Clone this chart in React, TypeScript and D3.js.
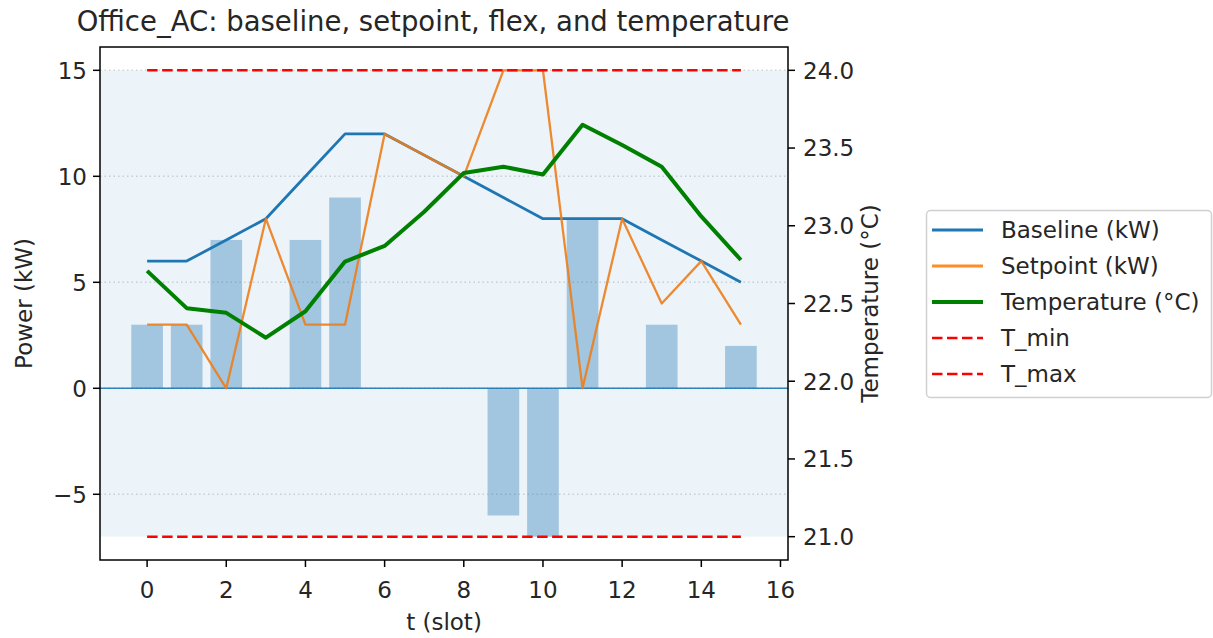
import React from "react";
import * as d3 from "d3";

const slots = [0, 1, 2, 3, 4, 5, 6, 7, 8, 9, 10, 11, 12, 13, 14, 15];
const baseline = [6, 6, 7, 8, 10, 12, 12, 11, 10, 9, 8, 8, 8, 7, 6, 5];
const setpoint = [3, 3, 0, 8, 3, 3, 12, 11, 10, 15, 15, 0, 8, 4, 6, 3];
const flex = [3, 3, 7, 0, 7, 9, 0, 0, 0, -6, -7, 8, 0, 3, 0, 2];
const temperature = [22.71, 22.47, 22.44, 22.28, 22.45, 22.77, 22.87, 23.09, 23.34, 23.38, 23.33, 23.65, 23.52, 23.38, 23.06, 22.78];
const T_MIN = 21.0;
const T_MAX = 24.0;
const xTicks = [0, 2, 4, 6, 8, 10, 12, 14, 16];
const yTicks = [-5, 0, 5, 10, 15];
const tTicks = [21.0, 21.5, 22.0, 22.5, 23.0, 23.5, 24.0];
const legendItems = [
  { label: "Baseline (kW)", color: "#1f77b4", width: 3, dash: "" },
  { label: "Setpoint (kW)", color: "#ff7f0e", width: 3, dash: "" },
  { label: "Temperature (°C)", color: "#008000", width: 4, dash: "" },
  { label: "T_min", color: "#ff0000", width: 2.5, dash: "10.5,4.5" },
  { label: "T_max", color: "#ff0000", width: 2.5, dash: "10.5,4.5" },
];

const W = 1213, H = 638;
const L = 100, R = 788, T = 47, B = 560;
const FONT = "DejaVu Sans, sans-serif";
const FS = 23;

export default function App() {
  const x = d3.scaleLinear().domain([-1.19, 16.19]).range([L, R]);
  const y = d3.scaleLinear().domain([-8.1, 16.1]).range([B, T]);
  const yt = d3.scaleLinear().domain([20.85, 24.15]).range([B, T]);
  const bw = x(0.8) - x(0);

  const lineP = d3.line<number>().x((_, i) => x(slots[i])).y((d) => y(d));
  const lineT = d3.line<number>().x((_, i) => x(slots[i])).y((d) => yt(d));
  const cx = (L + R) / 2, cy = (T + B) / 2;

  return (
    <svg width={W} height={H} style={{ position: "absolute", left: 0, top: 0, background: "#fff" }} fontFamily={FONT}>
      <defs>
        <clipPath id="plot"><rect x={L} y={T} width={R - L} height={B - T} /></clipPath>
      </defs>
      <rect x={0} y={0} width={W} height={H} fill="#fff" />
      <g clipPath="url(#plot)">
        {yTicks.map((v) => (
          <line key={"g" + v} x1={L} x2={R} y1={y(v)} y2={y(v)} stroke="#b0b0b0" strokeOpacity={0.5} strokeWidth={1.5} strokeDasharray="1.5,3" />
        ))}
        {flex.map((v, i) => (
          <rect key={"b" + i} x={x(slots[i]) - bw / 2} y={y(Math.max(0, v))} width={bw} height={Math.abs(y(v) - y(0))} fill="#1f77b4" fillOpacity={0.36} />
        ))}
        <line x1={L} x2={R} y1={y(0)} y2={y(0)} stroke="#1f77b4" strokeWidth={1.6} strokeOpacity={0.9} />
        <path d={lineP(baseline) || ""} fill="none" stroke="#1f77b4" strokeWidth={2.8} strokeLinejoin="round" />
        <path d={lineP(setpoint) || ""} fill="none" stroke="#ff7f0e" strokeOpacity={0.9} strokeWidth={2.3} strokeLinejoin="round" />
        <rect x={L} y={yt(T_MAX)} width={R - L} height={yt(T_MIN) - yt(T_MAX)} fill="#1f77b4" fillOpacity={0.08} />
        <path d={lineT(temperature) || ""} fill="none" stroke="#008000" strokeWidth={4} strokeLinejoin="round" />
        <line x1={x(0)} x2={x(15)} y1={yt(T_MIN)} y2={yt(T_MIN)} stroke="#ff0000" strokeWidth={2.6} strokeDasharray="10.5,4.5" />
        <line x1={x(0)} x2={x(15)} y1={yt(T_MAX)} y2={yt(T_MAX)} stroke="#ff0000" strokeWidth={2.6} strokeDasharray="10.5,4.5" />
      </g>
      <rect x={L} y={T} width={R - L} height={B - T} fill="none" stroke="#000" strokeWidth={1.5} />
      {xTicks.map((v) => (
        <g key={"x" + v}>
          <line x1={x(v)} x2={x(v)} y1={B} y2={B + 7} stroke="#000" strokeWidth={1.5} />
          <text x={x(v)} y={598} textAnchor="middle" fontSize={FS} fill="#262626">{v}</text>
        </g>
      ))}
      <text x={cx} y={630} textAnchor="middle" fontSize={FS} fill="#262626">t (slot)</text>
      {yTicks.map((v) => (
        <g key={"y" + v}>
          <line x1={L - 7} x2={L} y1={y(v)} y2={y(v)} stroke="#000" strokeWidth={1.5} />
          <text x={L - 13} y={y(v)} dy="0.36em" textAnchor="end" fontSize={FS} fill="#262626">{v < 0 ? "\u2212" + Math.abs(v) : v}</text>
        </g>
      ))}
      <text transform={`translate(32,${cy}) rotate(-90)`} textAnchor="middle" fontSize={FS} fill="#262626">Power (kW)</text>
      {tTicks.map((v) => (
        <g key={"t" + v}>
          <line x1={R} x2={R + 7} y1={yt(v)} y2={yt(v)} stroke="#000" strokeWidth={1.5} />
          <text x={R + 15} y={yt(v)} dy="0.36em" textAnchor="start" fontSize={FS} fill="#262626">{v.toFixed(1)}</text>
        </g>
      ))}
      <text transform={`translate(878,${cy}) rotate(-90)`} textAnchor="middle" fontSize={FS} fill="#262626">Temperature (°C)</text>
      <text x={433} y={31} textAnchor="middle" fontSize={27.5} fill="#262626">Office_AC: baseline, setpoint, flex, and temperature</text>
      <rect x={926.5} y={210.5} width={285} height={187} rx={4} fill="#fff" fillOpacity={0.8} stroke="#d0d0d0" strokeWidth={1.5} />
      {legendItems.map((it, i) => {
        const ly = 230 + i * 36;
        return (
          <g key={"l" + i}>
            <line x1={932} x2={983} y1={ly} y2={ly} stroke={it.color} strokeWidth={it.width} strokeDasharray={it.dash || undefined} strokeOpacity={it.label.startsWith("Setpoint") ? 0.9 : 1} />
            <text x={1001} y={ly} dy="0.36em" fontSize={FS} fill="#262626">{it.label}</text>
          </g>
        );
      })}
    </svg>
  );
}
